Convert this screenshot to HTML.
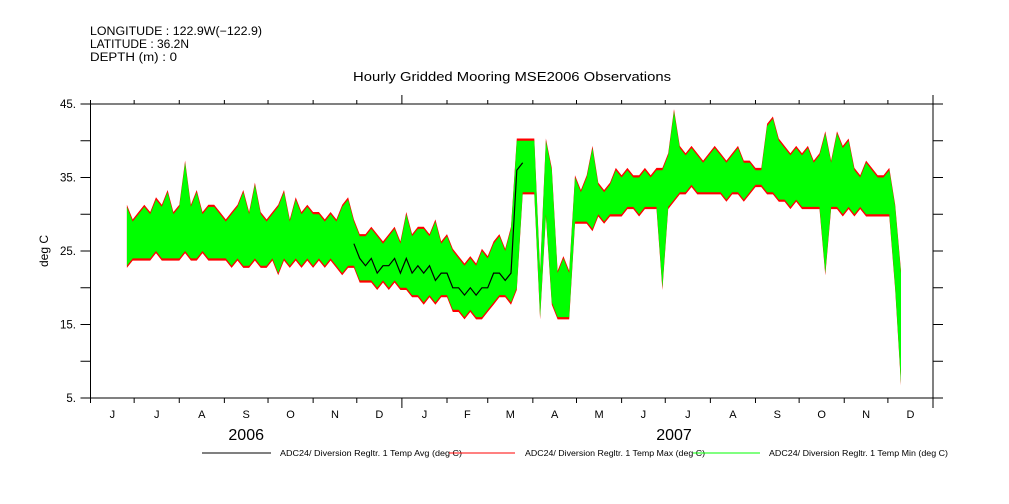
<!DOCTYPE html>
<html><head><meta charset="utf-8"><style>
html,body{margin:0;padding:0;background:#fff;}
svg{display:block;font-family:"Liberation Sans",sans-serif;}
</style></head><body>
<svg id="chart" width="1009" height="504" viewBox="0 0 1009 504" xmlns="http://www.w3.org/2000/svg">
<g font-size="11.5" fill="#000">
<text x="90" y="35" textLength="172" lengthAdjust="spacingAndGlyphs">LONGITUDE : 122.9W(−122.9)</text>
<text x="90" y="48" textLength="99" lengthAdjust="spacingAndGlyphs">LATITUDE : 36.2N</text>
<text x="90" y="61" textLength="87" lengthAdjust="spacingAndGlyphs">DEPTH (m) : 0</text>
</g>
<text x="512" y="81" font-size="12.5" text-anchor="middle" textLength="318" lengthAdjust="spacingAndGlyphs">Hourly Gridded Mooring MSE2006 Observations</text>
<text transform="translate(48,251) rotate(-90)" font-size="12" text-anchor="middle">deg C</text>
<g id="plot"></g>
<g id="axes"></g>
<g font-size="8">
<line x1="202" y1="453" x2="271" y2="453" stroke="#000" stroke-width="1"/>
<text x="280" y="456" textLength="182" lengthAdjust="spacingAndGlyphs">ADC24/ Diversion Regltr. 1 Temp Avg (deg C)</text>
<line x1="449" y1="453" x2="515" y2="453" stroke="#f00" stroke-width="1"/>
<text x="525" y="456" textLength="180" lengthAdjust="spacingAndGlyphs">ADC24/ Diversion Regltr. 1 Temp Max (deg C)</text>
<line x1="693" y1="453" x2="760" y2="453" stroke="#0f0" stroke-width="1"/>
<text x="769" y="456" textLength="179" lengthAdjust="spacingAndGlyphs">ADC24/ Diversion Regltr. 1 Temp Min (deg C)</text>
</g>
</svg>
<script>
const startDay = 25;
const stepDays = 4;
const hiVals = [31,29,30,31,30,32,31,33,30,
 31,37,31,33,30,31,31,30,
 29,30,31,33,30,34,30,29,
 30,31,33,29,32,30,31,30,
 30,29,30,29,31,32,29,
 27,27,28,27,26,27,28,26,
 30,27,28,28,27,29,26,27,
 25,24,23,24,23,25,24,
 26,27,25,28,40,40,40,
 40,22,40,36,22,24,22,35,
 33,35,39,34,33,34,36,
 35,36,35,35,36,35,36,36,38,
 44,39,38,39,38,37,
 38,39,38,37,38,39,37,37,36,36,
 42,43,40,39,38,39,
 38,39,37,38,41,37,41,39,
 40,36,35,37,36,35,35,36,31,22];
const loVals = [23,24,24,24,24,25,24,24,24,
 24,25,24,24,25,24,24,24,
 24,23,24,23,23,24,23,23,
 24,22,24,23,24,23,24,23,
 24,23,24,23,22,23,23,
 21,21,21,20,21,20,21,20,
 20,19,19,18,19,18,19,19,
 17,17,16,17,16,16,17,
 18,19,19,18,20,33,33,
 33,16,30,18,16,16,16,29,
 29,29,28,30,29,30,30,
 30,31,31,30,31,31,31,20,31,
 32,33,33,34,33,33,
 33,33,33,32,33,33,32,33,34,34,
 33,33,32,32,31,32,
 31,31,31,31,22,31,31,30,
 31,30,31,30,30,30,30,30,20,7];
const avgVals = [26,26,27,27,27,28,27,28,27,
 27,28,27,28,27,27,27,27,
 26,26,27,27,26,28,26,26,
 27,26,28,26,27,26,27,26,
 27,26,27,26,26,27,26,
 24,23,24,22,23,23,24,22,
 24,22,23,22,23,21,22,22,
 20,20,19,20,19,20,20,
 22,22,21,22,36,37,37,
 37,19,36,30,19,20,19,33,
 31,32,32,32,31,32,33,
 32,33,33,32,33,33,33,33,35,
 36,36,35,36,36,35,
 36,36,36,35,36,36,35,35,35,35,
 36,37,36,35,35,35,
 34,35,34,35,34,34,35,34,
 34,33,33,33,33,33,33,33,26,14];
const yTicks = [45,35,25,15,5];
const monthLabels = ["J","J","A","S","O","N","D","J","F","M","A","M","J","J","A","S","O","N","D"];
const monthStartDays = [0,30,61,92,122,153,183,214,245,273,304,334,365,395,426,457,487,518,548,579];
const yearLabels = ["2006","2007"];
const yearCenterDays = [107,401];

const X0=90.5, X1=933, Y0=104, Y1=398, DAYS=579;
const xs = d => X0 + d*(X1-X0)/DAYS;
const ys = v => Y1 - (v-5)*(Y1-Y0)/40;
const NS="http://www.w3.org/2000/svg";
function mk(tag, attrs, parent){const e=document.createElementNS(NS,tag);for(const k in attrs)e.setAttribute(k,attrs[k]);parent.appendChild(e);return e;}
const plot=document.getElementById('plot'), axes=document.getElementById('axes');
const n=hiVals.length;
const dayOf=i=>startDay+i*stepDays;
function band(off, color, name){
  let pts=[];
  for(let i=0;i<n;i++)pts.push(xs(dayOf(i)).toFixed(1)+","+ys(hiVals[i]+off).toFixed(1));
  for(let i=n-1;i>=0;i--)pts.push(xs(dayOf(i)).toFixed(1)+","+ys(loVals[i]-off).toFixed(1));
  const p=mk('polygon',{points:pts.join(' '),fill:color},plot);
  
  
}
band(0.3,'#f00','max-series-band');
band(0,'#0f0','min-series-band');
let ap=[];
for(let i=0;i<n;i++){const d=dayOf(i); if(d>=180&&d<=300) ap.push(xs(d).toFixed(1)+","+ys(avgVals[i]).toFixed(1));}
const al=mk('polyline',{points:ap.join(' '),fill:'none',stroke:'#000','stroke-width':1.2},plot);


const fr=mk('rect',{x:X0,y:Y0,width:X1-X0,height:Y1-Y0,fill:'none',stroke:'#000','stroke-width':1},axes);


for(let v=5;v<=45;v+=5){
  const y=ys(v);
  mk('line',{x1:X0-10,y1:y,x2:X0,y2:y,stroke:'#000'},axes);
  mk('line',{x1:X1,y1:y,x2:X1+10,y2:y,stroke:'#000'},axes);
}
yTicks.forEach(v=>{
  const t=mk('text',{x:76,y:ys(v)+4,'font-size':11.5,'text-anchor':'end'},axes);
  t.textContent=v+".";
  
  
});
monthStartDays.forEach((d,i)=>{
  const x=xs(d); const long=(d===214||d===579);
  mk('line',{x1:x,y1:Y0-(long?9:4),x2:x,y2:Y0,stroke:'#000'},axes);
  mk('line',{x1:x,y1:Y1,x2:x,y2:Y1+(long?10:5),stroke:'#000'},axes);
});
monthLabels.forEach((m,i)=>{
  const x=xs((monthStartDays[i]+monthStartDays[i+1])/2);
  const t=mk('text',{x:x,y:418,'font-size':11,'text-anchor':'middle'},axes);
  t.textContent=m;
  
  
});
yearLabels.forEach((y,i)=>{
  const t=mk('text',{x:xs(yearCenterDays[i]),y:440,'font-size':16,'text-anchor':'middle'},axes);
  t.textContent=y;
  
  
});
</script>
</body></html>
